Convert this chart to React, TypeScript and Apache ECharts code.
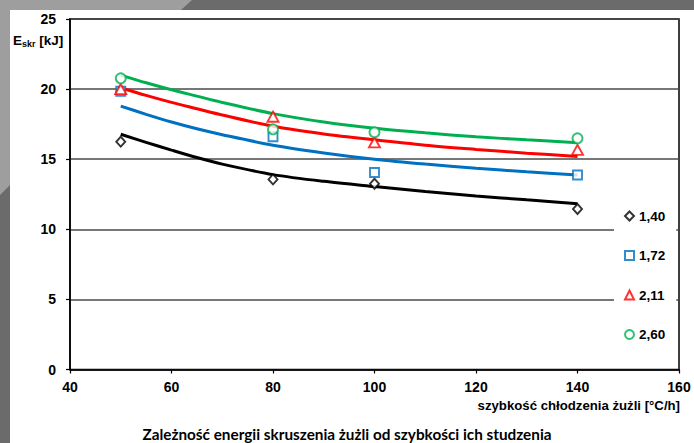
import React, { useEffect, useRef } from "react";
import * as echarts from "echarts";

// measured points
const xPoints = [50, 80, 100, 140];
const s140 = [16.25, 13.56, 13.25, 11.45];
const s172 = [19.85, 16.6, 14.05, 13.87];
const s211 = [20.0, 18.03, 16.2, 15.66];
const s260 = [20.77, 17.13, 16.92, 16.49];

// trend lines
const xTrend = [50, 55, 60, 65, 70, 80, 90, 100, 110, 120, 130, 140];
const t140 = [16.78, 16.2, 15.65, 15.12, 14.65, 13.9, 13.42, 13.05, 12.7, 12.38, 12.1, 11.83];
const t172 = [18.79, 18.2, 17.65, 17.17, 16.75, 16.0, 15.45, 15.0, 14.65, 14.35, 14.1, 13.87];
const t211 = [20.1, 19.55, 19.05, 18.6, 18.15, 17.35, 16.8, 16.38, 16.0, 15.7, 15.43, 15.2];
const t260 = [21.0, 20.45, 19.95, 19.5, 19.05, 18.25, 17.65, 17.2, 16.88, 16.6, 16.38, 16.18];

const seriesNames = ["1,40", "1,72", "2,11", "2,60"];
const seriesColors = ["#000000", "#0070C0", "#FF0000", "#00B050"];
const seriesSymbols = ["diamond", "rect", "triangle", "circle"];
const symbolSizes = [[9, 10], [9, 9], [11, 10], [10, 10]];

const xTicks = { min: 40, max: 160, interval: 20 };
const yTicks = { min: 0, max: 25, interval: 5 };

const title = "Zależność energii skruszenia żużli od szybkości ich studzenia";
const xName = "szybkość chłodzenia żużli [°C/h]";

const FONT = "'Liberation Sans', Arial, sans-serif";

export default function App() {
  const ref = useRef<HTMLDivElement>(null);
  useEffect(() => {
    if (!ref.current) return;
    const chart = echarts.init(ref.current, undefined, { renderer: "svg" });
    const points = [s140, s172, s211, s260];
    const trends = [t140, t172, t211, t260];
    const series: any[] = [];
    trends.forEach((t, i) => {
      series.push({
        type: "line",
        name: "trend" + i,
        data: xTrend.map((x, k) => [x, t[k]]),
        smooth: 0.3,
        showSymbol: false,
        lineStyle: { color: seriesColors[i], width: 3 },
        z: 3,
        silent: true,
      });
    });
    points.forEach((p, i) => {
      series.push({
        type: "scatter",
        name: seriesNames[i],
        data: xPoints.map((x, k) => [x, p[k]]),
        symbol: seriesSymbols[i],
        symbolSize: symbolSizes[i],
        itemStyle: { color: "#ffffff", borderColor: seriesColors[i], borderWidth: 1.9 },
        z: 5,
      });
    });
    chart.setOption({
      animation: false,
      backgroundColor: "#ffffff",
      grid: {
        left: 70,
        top: 19,
        right: 15,
        bottom: 73.5,
        show: true,
        borderColor: "#000",
        borderWidth: 1.5,
        containLabel: false,
      },
      xAxis: {
        type: "value",
        min: xTicks.min,
        max: xTicks.max,
        interval: xTicks.interval,
        axisLine: { show: true, lineStyle: { color: "#000", width: 1.5 } },
        axisTick: { show: true, length: 4, lineStyle: { color: "#000", width: 1.2 } },
        axisLabel: { color: "#000", fontFamily: FONT, fontWeight: "bold", fontSize: 14, margin: 10 },
        splitLine: { show: false },
      },
      yAxis: {
        type: "value",
        min: yTicks.min,
        max: yTicks.max,
        interval: yTicks.interval,
        axisLine: { show: true, lineStyle: { color: "#000", width: 1.5 } },
        axisTick: { show: true, length: 4, lineStyle: { color: "#000", width: 1.2 } },
        axisLabel: { color: "#000", fontFamily: FONT, fontWeight: "bold", fontSize: 14, margin: 14 },
        splitLine: { show: true, lineStyle: { color: "#4a4a4a", width: 1.5 } },
      },
      legend: {
        data: seriesNames,
        orient: "vertical",
        left: 614,
        top: 202,
        padding: [7, 11, 7, 10],
        itemWidth: 9,
        itemHeight: 9,
        itemGap: 25.5,
        itemTextGap: 5,
        backgroundColor: "#ffffff",
        textStyle: { color: "#000", fontFamily: FONT, fontWeight: "bold", fontSize: 13.5, lineHeight: 14 },
      },
      graphic: [
        { type: "rect", z: -10, silent: true, shape: { x: 0, y: 0, width: 694, height: 443 }, style: { fill: "#6b6b6b" } },
        {
          type: "polygon",
          z: -10,
          silent: true,
          shape: { points: [[0, 0], [192, 0], [181, 10], [10, 10], [10, 185], [0, 195]] },
          style: { fill: "#9e9e9e" },
        },
        { type: "rect", z: -10, silent: true, shape: { x: 10, y: 10, width: 684, height: 433 }, style: { fill: "#ffffff" } },
        {
          type: "text",
          left: 13,
          top: 33,
          style: {
            text: "{a|E}{b|skr}{a| [kJ]}",
            fill: "#000",
            rich: {
              a: { fontFamily: FONT, fontWeight: "bold", fontSize: 13.5, lineHeight: 16, verticalAlign: "middle", fill: "#000" },
              b: { fontFamily: FONT, fontWeight: "bold", fontSize: 9, lineHeight: 16, verticalAlign: "bottom", fill: "#000" },
            },
          },
        },
        {
          type: "text",
          x: 680,
          y: 405,
          style: {
            text: xName,
            fill: "#000",
            font: "bold 13.2px 'Liberation Sans', Arial, sans-serif",
            textAlign: "right",
            textVerticalAlign: "middle",
          },
        },
        {
          type: "text",
          x: 347,
          y: 434,
          style: {
            text: title,
            fill: "#000",
            font: "bold 15.3px Lato, 'Open Sans', sans-serif",
            textAlign: "center",
            textVerticalAlign: "middle",
          },
        },
      ],
      series,
    });
    return () => chart.dispose();
  }, []);
  return <div ref={ref} style={{ position: "fixed", left: 0, top: 0, width: 694, height: 443 }} />;
}
